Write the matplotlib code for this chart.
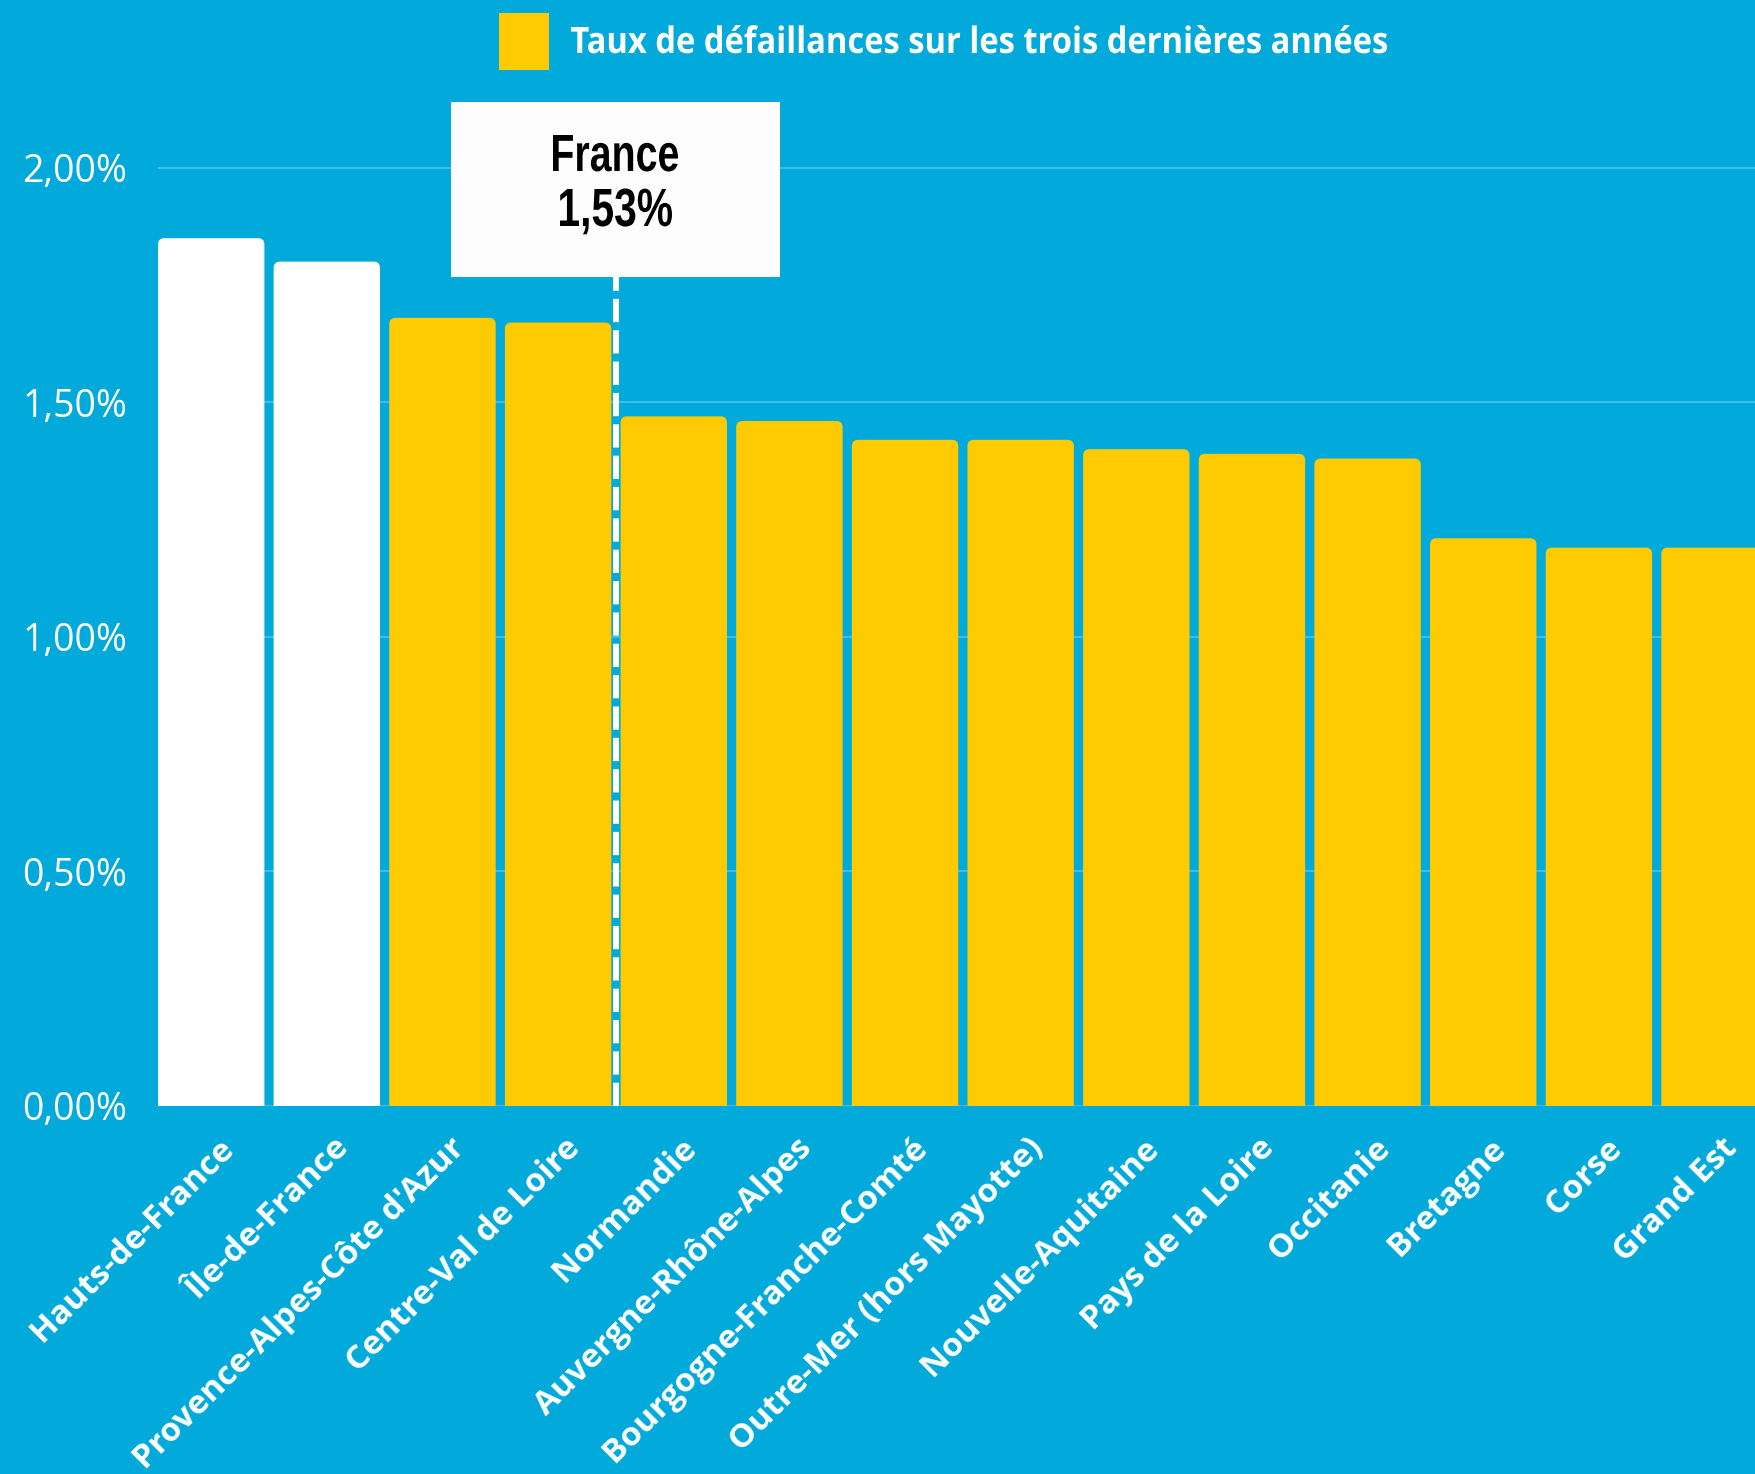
import matplotlib
matplotlib.use('Agg')
import matplotlib.pyplot as plt
import matplotlib.transforms as mtransforms
from matplotlib.patches import Rectangle, PathPatch, FancyBboxPatch
from matplotlib.textpath import TextPath
from matplotlib.font_manager import FontProperties
import numpy as np

# data
regions = ["Hauts-de-France", "Île-de-France", "Provence-Alpes-Côte d'Azur",
           "Centre-Val de Loire", "Normandie", "Auvergne-Rhône-Alpes",
           "Bourgogne-Franche-Comté", "Outre-Mer (hors Mayotte)", "Nouvelle-Aquitaine",
           "Pays de la Loire", "Occitanie", "Bretagne", "Corse", "Grand Est"]
rates = [1.85, 1.80, 1.68, 1.67, 1.47, 1.46, 1.42, 1.42, 1.40, 1.39, 1.38, 1.21, 1.19, 1.19]
highlight = [True, True] + [False] * 12
france_label = "France"
france_rate = 1.53
france_rate_label = "1,53%"
yticks = [0.0, 0.5, 1.0, 1.5, 2.0]
ytick_labels = ["0,00%", "0,50%", "1,00%", "1,50%", "2,00%"]
legend_label = "Taux de défaillances sur les trois dernières années"

W, H = 1755, 1474
BG = '#02A9DB'
YELLOW = '#FECB03'
WHITE = '#FFFFFF'
GRID = '#45C0E8'
SANS = ['Open Sans', 'DejaVu Sans']


def fitted_text(fig, s, left, right, baseline, cap, prop, color, zorder=10):
    # draws text squeezed/stretched to a box given in output pixels (top-left origin)
    path = TextPath((0, 0), s, size=100, prop=prop)
    cap_h = TextPath((0, 0), "H", size=100, prop=prop).get_extents().ymax
    ext = path.get_extents()
    sx = (right - left) / ext.width
    sy = cap / cap_h
    tr = mtransforms.Affine2D().translate(-ext.xmin, 0).scale(sx, sy).translate(left, H - baseline)
    patch = PathPatch(tr.transform_path(path), facecolor=color, edgecolor='none',
                      transform=mtransforms.IdentityTransform(), zorder=zorder)
    fig.add_artist(patch)


fig = plt.figure(figsize=(W / 100, H / 100), dpi=100, facecolor=BG)
ax_h = 1105.6 / H
ax = fig.add_axes([158 / W, 1 - ax_h, 1 - 158 / W, ax_h])
ax.set_facecolor(BG)

xlim = (-0.46, 13.35)
ylim = (0, 2.358)
ax.set_xlim(*xlim)
ax.set_ylim(*ylim)

x = np.arange(len(regions))
colors = [WHITE if h else YELLOW for h in highlight]
bars = ax.bar(x, rates, width=0.92, color=colors, zorder=3, linewidth=0)

# swap the plain bars for ones with slightly rounded tops
px_per_x = (1 - 158 / W) * W / (xlim[1] - xlim[0])
px_per_y = ax_h * H / (ylim[1] - ylim[0])
for b in bars:
    bx, bw, bh = b.get_x(), b.get_width(), b.get_height()
    col = b.get_facecolor()
    b.remove()
    ax.add_patch(FancyBboxPatch((bx, -0.1), bw, bh + 0.1,
                                boxstyle="round,pad=0,rounding_size=0.055",
                                mutation_aspect=px_per_x / px_per_y,
                                facecolor=col, edgecolor='none', zorder=3))

ax.set_yticks(yticks)
ax.set_yticklabels(ytick_labels, family=SANS, fontsize=27, color=WHITE)
ax.yaxis.grid(True, color=GRID, linewidth=1.3, zorder=0)
ax.tick_params(axis='y', length=0, pad=22)
ax.tick_params(axis='x', length=0, pad=6)
for s in ax.spines.values():
    s.set_visible(False)

ax.set_xticks(x)
ax.set_xticklabels(regions, rotation=45, ha='right', va='top', rotation_mode='anchor',
                   family=SANS, fontweight='bold', fontsize=24, color=WHITE)
offset = mtransforms.ScaledTranslation(6 / 100, -18 / 100, fig.dpi_scale_trans)
for lbl in ax.get_xticklabels():
    lbl.set_transform(lbl.get_transform() + offset)

# France average marker
xm = 3.5
box_bottom, box_top = 1.7675, 2.141
ax.plot([xm, xm], [0, box_bottom], color=WHITE, linewidth=4.3,
        dashes=(3.9, 1.35), zorder=4, dash_capstyle='butt')
ax.add_patch(Rectangle((xm - 1.4225, box_bottom), 2.845, box_top - box_bottom,
                       facecolor='#FDFDFD', edgecolor='none', zorder=5))
cond = FontProperties(family=['Liberation Sans', 'DejaVu Sans'], weight='bold')
fitted_text(fig, france_label, 553, 678, 171, 36, cond, 'black')
fitted_text(fig, france_rate_label, 560, 672, 226, 37, cond, 'black')

# legend at top
fig.add_artist(Rectangle((499 / W, 1 - 70 / H), 50 / W, 57 / H,
                         transform=fig.transFigure, facecolor=YELLOW, edgecolor='none'))
fitted_text(fig, legend_label, 571, 1387, 53, 26,
            FontProperties(family=SANS, weight='bold'), WHITE)

fig.savefig('out.png', dpi=100, facecolor=BG)
